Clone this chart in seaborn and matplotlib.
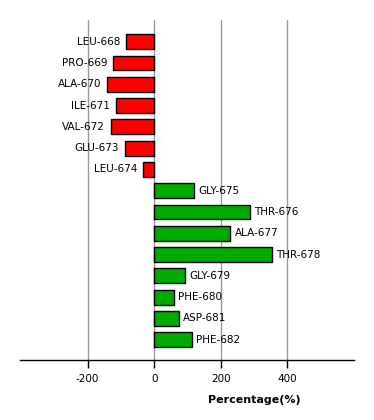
import numpy as np
import pandas as pd
import matplotlib
matplotlib.use("Agg")
import matplotlib.pyplot as plt
import seaborn as sns

## data
residues = ["LEU-668", "PRO-669", "ALA-670", "ILE-671", "VAL-672", "GLU-673",
            "LEU-674", "GLY-675", "THR-676", "ALA-677", "THR-678", "GLY-679",
            "PHE-680", "ASP-681", "PHE-682"]
percentage = [-84, -123, -141, -114, -129, -87, -33, 121, 289, 229, 355,
              93, 58, 73, 115]
x_ticks = [-200, 0, 200, 400]

df = pd.DataFrame({"residue": residues, "pct": percentage})
df["sign"] = np.where(df["pct"] < 0, "neg", "pos")

sns.set_style("white")
plt.rcParams["font.family"] = ["DejaVu Sans"]
plt.rcParams["text.color"] = "black"
plt.rcParams["xtick.color"] = "black"
plt.rcParams["axes.labelcolor"] = "black"

fig = plt.figure(figsize=(3.74, 4.2), dpi=100)
ax = fig.add_axes([0.0535, 0.1429, 0.893, 0.8095])

sns.barplot(data=df, x="pct", y="residue", hue="sign", orient="h",
            palette={"neg": "#ff0000", "pos": "#00aa00"}, dodge=False,
            width=0.7, edgecolor="black", linewidth=1, legend=False,
            saturation=1, ax=ax, zorder=3)

# labels next to the bars
for i, (name, v) in enumerate(zip(residues, percentage)):
    if v < 0:
        ax.text(v - 18, i, name, ha="right", va="center", fontsize=7.5,
                color="black")
    else:
        ax.text(v + 12, i, name, ha="left", va="center", fontsize=7.5,
                color="black")

ax.set_xlim(-403, 600)
ax.set_ylim(14.95, -1.02)
ax.set_xticks(x_ticks)
ax.set_xticklabels([str(t) for t in x_ticks], fontsize=7.5)
ax.set_yticks([])
ax.set_ylabel("")
ax.grid(axis="x", color="#999999", linewidth=1, zorder=0)
ax.set_axisbelow(True)
for s in ["top", "left", "right"]:
    ax.spines[s].set_visible(False)
ax.spines["bottom"].set_color("black")
ax.spines["bottom"].set_linewidth(1)
ax.tick_params(axis="x", direction="out", length=6, width=1, color="black",
               labelcolor="black", bottom=True, pad=4)
ax.set_xlabel("Percentage(%)", fontsize=8, fontweight="bold", color="black")
ax.xaxis.set_label_coords(0.702, -0.103)

fig.savefig("out.png", dpi=100)
